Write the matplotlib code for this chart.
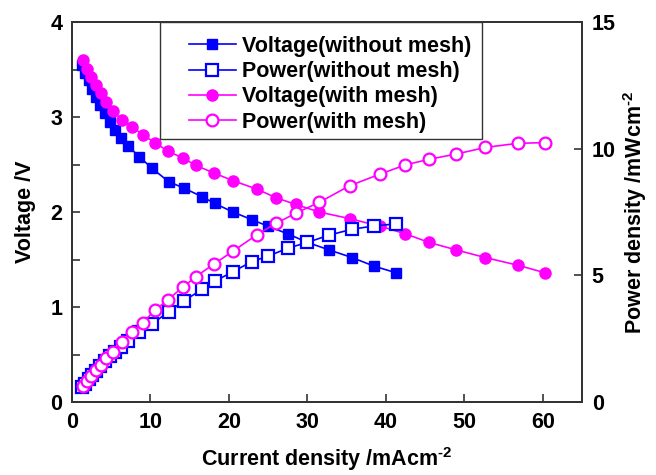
import matplotlib
matplotlib.use("Agg")
import matplotlib.pyplot as plt
from matplotlib.ticker import MultipleLocator
from matplotlib.patches import Rectangle

# current density (mA/cm^2)
i_nomesh = [1.27, 1.69, 2.11, 2.55, 3.1, 3.6, 4.24, 4.9, 5.5, 6.24, 7.2, 8.6, 10.2,
            12.3, 14.3, 16.6, 18.2, 20.5, 22.9, 25.0, 27.5, 30.0, 32.8, 35.7, 38.5, 41.3]
v_nomesh = [3.55, 3.46, 3.39, 3.30, 3.21, 3.13, 3.04, 2.95, 2.86, 2.78, 2.69, 2.58, 2.46,
            2.32, 2.25, 2.16, 2.09, 2.00, 1.92, 1.85, 1.77, 1.68, 1.60, 1.52, 1.43, 1.36]
p_nomesh = [0.60, 0.73, 0.89, 1.05, 1.24, 1.41, 1.61, 1.81, 1.97, 2.17, 2.42, 2.77, 3.08,
            3.56, 4.00, 4.45, 4.77, 5.14, 5.54, 5.76, 6.07, 6.30, 6.59, 6.82, 6.95, 7.03]

i_mesh = [1.35, 1.85, 2.4, 3.0, 3.65, 4.35, 5.2, 6.4, 7.7, 9.0, 10.6, 12.2, 14.1, 15.8,
          18.1, 20.5, 23.6, 26.0, 28.5, 31.5, 35.4, 39.3, 42.5, 45.5, 49.0, 52.7, 56.8, 60.3]
v_mesh = [3.60, 3.51, 3.42, 3.34, 3.25, 3.16, 3.06, 2.97, 2.90, 2.81, 2.73, 2.64, 2.57, 2.49,
          2.41, 2.33, 2.24, 2.15, 2.08, 2.00, 1.93, 1.85, 1.77, 1.68, 1.60, 1.52, 1.44, 1.36]
p_mesh = [0.62, 0.82, 1.03, 1.25, 1.48, 1.72, 1.99, 2.38, 2.78, 3.13, 3.63, 4.03, 4.53, 4.95,
          5.45, 5.95, 6.61, 7.05, 7.45, 7.88, 8.54, 9.00, 9.36, 9.58, 9.79, 10.05, 10.21, 10.24]

BLUE = "#0000ff"
MAG = "#ff00ff"
FS = 15.5

plt.rcParams['font.family'] = ['Liberation Sans', 'DejaVu Sans']
plt.rcParams['font.weight'] = 'bold'
plt.rcParams['mathtext.fontset'] = 'custom'
plt.rcParams['mathtext.bf'] = 'Liberation Sans:bold'
plt.rcParams['mathtext.rm'] = 'Liberation Sans:bold'

fig = plt.figure(figsize=(6.56, 4.75), dpi=100)
ax = fig.add_axes([72/656, 73/475, 510/656, 380/475])
ax2 = ax.twinx()

l1, = ax.plot(i_nomesh, v_nomesh, '-s', color=BLUE, ms=7.5, lw=1.2, mec=BLUE, mfc=BLUE,
              label="Voltage(without mesh)")
l2, = ax2.plot(i_nomesh, p_nomesh, '-s', color=BLUE, ms=8, lw=1.2, mec=BLUE, mfc='white',
               mew=1.6, label="Power(without mesh)")
l3, = ax.plot(i_mesh, v_mesh, '-o', color=MAG, ms=8, lw=1.2, mec=MAG, mfc=MAG,
              label="Voltage(with mesh)")
l4, = ax2.plot(i_mesh, p_mesh, '-o', color=MAG, ms=8.5, lw=1.2, mec=MAG, mfc='white',
               mew=1.6, label="Power(with mesh)")

ax.set_xlim(0, 65)
ax.set_ylim(0, 4)
ax2.set_ylim(0, 15)
ax.xaxis.set_major_locator(MultipleLocator(10))
ax.yaxis.set_major_locator(MultipleLocator(1))
ax.yaxis.set_minor_locator(MultipleLocator(0.5))
ax2.yaxis.set_major_locator(MultipleLocator(5))

for a in (ax, ax2):
    a.tick_params(which='both', direction='in', length=6, width=1.2, labelsize=FS,
                  color='#333333', pad=7)
    for s in a.spines.values():
        s.set_linewidth(1.3)
        s.set_color('#333333')

ax.set_xlabel("Current density /mAcm$^{\u2010\\mathbf{2}}$", fontsize=FS, fontweight='bold',
              labelpad=9)
ax.set_ylabel("Voltage /V", fontsize=FS, fontweight='bold', labelpad=10)
ax2.set_ylabel("Power density /mWcm$^{\u2010\\mathbf{2}}$", fontsize=FS, fontweight='bold',
               labelpad=4)

# legend frame drawn separately so the inner padding can match
box = Rectangle((0.173, 0.692), 0.631, 0.308, transform=ax.transAxes, fill=True,
                facecolor='white', edgecolor='#333333', lw=1.0, zorder=5)
ax2.add_patch(box)
leg = ax2.legend(handles=[l1, l2, l3, l4], loc='upper left', bbox_to_anchor=(0.22, 0.975),
                 fontsize=FS, frameon=False, handlelength=2.2,
                 borderaxespad=0, labelspacing=0.2, handletextpad=0.3, borderpad=0.2)
leg.set_zorder(6)
for t in leg.get_texts():
    t.set_fontweight('bold')

plt.savefig("out.png", dpi=100)
